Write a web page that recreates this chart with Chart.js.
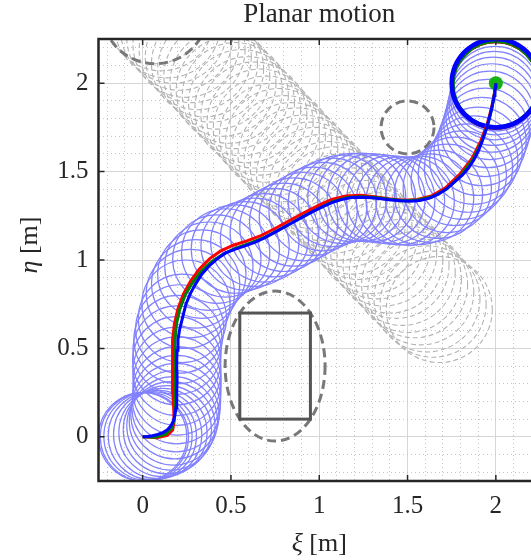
<!DOCTYPE html>
<html lang="en">
<head>
<meta charset="UTF-8">
<title>Planar motion</title>
<style>
    html, body { margin: 0; padding: 0; overflow: hidden; background: #fff; }
    #wrap { width: 560px; height: 560px; }
</style>
</head>
<body>
<div id="wrap"><canvas id="motionChart"></canvas></div>

<script src="https://cdn.jsdelivr.net/npm/chart.js"></script>
<script>
    // robot trajectories (xi, eta) in metres; the footprint circles sit on the blue samples
    const blueX = [0, 0.01, 0.03, 0.055, 0.085, 0.115, 0.14, 0.16, 0.174, 0.183, 0.189, 0.192, 0.194, 0.195, 0.194, 0.193,
        0.195, 0.2, 0.21, 0.225, 0.245, 0.27, 0.3, 0.335, 0.375, 0.42, 0.47, 0.525, 0.58, 0.635, 0.69, 0.745, 0.8, 0.855,
        0.91, 0.965, 1.02, 1.075, 1.13, 1.185, 1.24, 1.295, 1.35, 1.405, 1.46, 1.515, 1.57, 1.625, 1.675, 1.725, 1.77,
        1.81, 1.845, 1.875, 1.9, 1.922, 1.94, 1.955, 1.967, 1.977, 1.985, 1.991, 1.995, 1.998, 2.0];
    const blueY = [0, 0, 0.002, 0.006, 0.013, 0.024, 0.04, 0.062, 0.09, 0.125, 0.165, 0.21, 0.26, 0.315, 0.37, 0.43,
        0.49, 0.55, 0.61, 0.67, 0.75, 0.81, 0.865, 0.92, 0.965, 1.005, 1.04, 1.062, 1.08, 1.1, 1.125, 1.155, 1.185, 1.215,
        1.245, 1.275, 1.302, 1.326, 1.343, 1.353, 1.355, 1.352, 1.346, 1.34, 1.335, 1.333, 1.337, 1.35, 1.372, 1.405, 1.445,
        1.48, 1.52, 1.565, 1.615, 1.67, 1.722, 1.772, 1.818, 1.86, 1.898, 1.93, 1.958, 1.98, 2.0];

    const greenX = [0, 0.07, 0.13, 0.165, 0.18, 0.184, 0.182, 0.181, 0.181, 0.184, 0.192, 0.21, 0.24, 0.28, 0.33,
        0.39, 0.45, 0.52, 0.6, 0.68, 0.76, 0.84, 0.92, 1.0, 1.08, 1.16, 1.24, 1.32, 1.4, 1.48, 1.56, 1.64, 1.72, 1.8,
        1.87, 1.92, 1.955, 1.978, 1.992, 2.0];
    const greenY = [0, -0.002, 0.015, 0.05, 0.1, 0.17, 0.26, 0.36, 0.46, 0.56, 0.64, 0.72, 0.8, 0.868, 0.935,
        0.99, 1.03, 1.064, 1.093, 1.123, 1.163, 1.208, 1.253, 1.293, 1.332, 1.353, 1.358, 1.354, 1.343, 1.335, 1.34, 1.358, 1.4, 1.476,
        1.567, 1.668, 1.768, 1.86, 1.94, 2.0];

    const redX = [0, 0.08, 0.14, 0.17, 0.178, 0.176, 0.171, 0.169, 0.168, 0.171, 0.18, 0.2, 0.23, 0.27, 0.32,
        0.38, 0.44, 0.51, 0.59, 0.67, 0.75, 0.83, 0.91, 0.99, 1.07, 1.15, 1.235, 1.315, 1.395, 1.475, 1.555,
        1.635, 1.715, 1.795, 1.865, 1.915, 1.952, 1.976, 1.991, 2.0];
    const redY = [0, -0.006, 0.008, 0.038, 0.085, 0.15, 0.25, 0.35, 0.45, 0.55, 0.64, 0.725, 0.805, 0.878, 0.948,
        1.008, 1.05, 1.082, 1.108, 1.138, 1.178, 1.222, 1.266, 1.306, 1.343, 1.362, 1.366, 1.358, 1.346, 1.338, 1.342,
        1.362, 1.408, 1.484, 1.574, 1.674, 1.772, 1.862, 1.94, 2.0];

    // moving obstacle centres
    const obsX = [0.07, 0.105, 0.14, 0.175, 0.21, 0.245, 0.28, 0.315, 0.35, 0.385, 0.42, 0.455, 0.49, 0.525, 0.56, 0.595,
        0.63, 0.665, 0.70, 0.735, 0.77, 0.805, 0.84, 0.875, 0.91, 0.945, 0.98, 1.015, 1.05, 1.085, 1.12, 1.155, 1.19, 1.225,
        1.26, 1.295, 1.33, 1.365, 1.40, 1.435, 1.47, 1.505, 1.54, 1.575, 1.61, 1.645, 1.68];
    const obsY = [2.41, 2.37, 2.33, 2.30, 2.26, 2.22, 2.19, 2.15, 2.11, 2.08, 2.04, 2.00, 1.96, 1.93, 1.89, 1.85,
        1.82, 1.78, 1.74, 1.70, 1.67, 1.63, 1.59, 1.56, 1.52, 1.48, 1.45, 1.41, 1.37, 1.34, 1.30, 1.26, 1.22, 1.19,
        1.15, 1.11, 1.08, 1.04, 1.00, 0.97, 0.93, 0.89, 0.86, 0.82, 0.78, 0.75, 0.72];

    const robotR = 0.25;
    const obstacleR = 0.3;
    const staticCircle = [1.5, 1.75, 0.15];        // xi, eta, radius
    const staticEllipse = [0.75, 0.4, 0.283, 0.424]; // xi, eta, semi-axes
    const staticBox = [0.55, 0.1, 0.95, 0.7];       // xi0, eta0, xi1, eta1
    const goal = [2, 2];

    const tickValues = [0, 0.5, 1, 1.5, 2];
    const tickLabels = ['0', '0.5', '1', '1.5', '2'];

    // grid every 0.1, labelled every 0.5
    const gridValues = [];
    for (let k = -2; k <= 22; k++) gridValues.push(k / 10);

    const isMajor = v => tickValues.some(t => Math.abs(t - v) < 1e-6);
    const tickText = v => {
        const i = tickValues.findIndex(t => Math.abs(t - v) < 1e-6);
        return i >= 0 ? tickLabels[i] : '';
    };
    const pts = (xs, ys) => xs.map((x, i) => ({ x: x, y: ys[i] }));

    const ink = '#262626';
    const serif = '"Liberation Serif", "DejaVu Serif", serif';

    // circles, ellipse and box drawn through the chart's scales
    const shapes = {
        id: 'shapes',
        beforeDatasetsDraw(chart) {
            const { ctx, chartArea: a, scales: { x, y } } = chart;
            const px = v => x.getPixelForValue(v);
            const py = v => y.getPixelForValue(v);
            const rx = r => Math.abs(px(r) - px(0));
            const ry = r => Math.abs(py(r) - py(0));

            function ring(cx, cy, r, color, w, dash) {
                ctx.beginPath();
                ctx.ellipse(px(cx), py(cy), rx(r), ry(r), 0, 0, 2 * Math.PI);
                ctx.strokeStyle = color;
                ctx.lineWidth = w;
                ctx.setLineDash(dash || []);
                ctx.stroke();
            }

            ctx.save();
            ctx.beginPath();
            ctx.rect(a.left, a.top, a.right - a.left, a.bottom - a.top);
            ctx.clip();

            obsX.forEach((cx, i) => ring(cx, obsY[i], obstacleR, '#b3b3b3', 1.1, [5, 3]));
            blueX.forEach((cx, i) => ring(cx, blueY[i], robotR, '#8282ff', 1.2));

            // obstacles
            ring(obsX[0], obsY[0], obstacleR, '#787878', 3, [9, 5]);
            ring(staticCircle[0], staticCircle[1], staticCircle[2], '#787878', 3, [9, 5]);
            ctx.beginPath();
            ctx.ellipse(px(staticEllipse[0]), py(staticEllipse[1]), rx(staticEllipse[2]), ry(staticEllipse[3]), 0, 0, 2 * Math.PI);
            ctx.setLineDash([9, 5]);
            ctx.strokeStyle = '#787878';
            ctx.lineWidth = 3;
            ctx.stroke();
            ctx.setLineDash([]);
            ctx.strokeStyle = '#555555';
            ctx.strokeRect(px(staticBox[0]), py(staticBox[3]),
                px(staticBox[2]) - px(staticBox[0]), py(staticBox[1]) - py(staticBox[3]));

            // final footprints
            ring(redX[redX.length - 1], redY[redY.length - 1] - 0.01, robotR - 0.005, '#ff0000', 3);
            ring(greenX[greenX.length - 1], greenY[greenY.length - 1] - 0.006, robotR - 0.006, '#008000', 4);
            ring(blueX[blueX.length - 1], blueY[blueY.length - 1], robotR, '#0000ff', 4.5);
            ctx.restore();
        },
        afterDraw(chart) {
            const { ctx, chartArea: a, scales: { x, y } } = chart;
            ctx.save();
            ctx.strokeStyle = ink;
            ctx.lineWidth = 2.5;
            ctx.strokeRect(a.left, a.top, a.right - a.left, a.bottom - a.top);
            ctx.lineWidth = 1.5;
            ctx.beginPath();
            tickValues.forEach(v => {
                const X = x.getPixelForValue(v), Y = y.getPixelForValue(v);
                ctx.moveTo(X, a.bottom); ctx.lineTo(X, a.bottom - 6);
                ctx.moveTo(X, a.top); ctx.lineTo(X, a.top + 6);
                ctx.moveTo(a.left, Y); ctx.lineTo(a.left + 6, Y);
                ctx.moveTo(a.right, Y); ctx.lineTo(a.right - 6, Y);
            });
            ctx.stroke();

            // axis titles: italic symbol + unit
            function axisTitle(sym, unit, cx, cy) {
                ctx.font = 'italic 26px ' + serif;
                const w1 = ctx.measureText(sym).width;
                ctx.font = '26px ' + serif;
                const w2 = ctx.measureText(unit).width;
                const x0 = cx - (w1 + w2) / 2;
                ctx.font = 'italic 26px ' + serif;
                ctx.fillText(sym, x0, cy);
                ctx.font = '26px ' + serif;
                ctx.fillText(unit, x0 + w1, cy);
            }
            ctx.fillStyle = ink;
            ctx.textBaseline = 'alphabetic';
            ctx.textAlign = 'left';
            axisTitle('ξ', ' [m]', (a.left + a.right) / 2, 551);
            ctx.translate(37, 245);
            ctx.rotate(-Math.PI / 2);
            axisTitle('η', ' [m]', 0, 0);
            ctx.restore();
        }
    };

    function axis(fit) {
        return {
            type: 'linear',
            min: -0.25,
            max: 2.25,
            afterBuildTicks: s => { s.ticks = gridValues.map(v => ({ value: v })); },
            afterFit: fit,
            ticks: {
                autoSkip: false,
                maxRotation: 0,
                padding: 10,
                color: ink,
                font: { family: serif, size: 25 },
                callback: v => tickText(v)
            },
            grid: {
                drawTicks: false,
                lineWidth: 1,
                color: c => (c.tick && isMajor(c.tick.value)) ? '#d6d6d6' : '#c4c4c4'
            },
            border: {
                display: false,
                dash: c => (c.tick && !isMajor(c.tick.value)) ? [1, 3] : []
            }
        };
    }

    new Chart(document.getElementById('motionChart'), {
        type: 'scatter',
        data: {
            datasets: [
                { label: 'goal', data: [{ x: goal[0], y: goal[1] }], pointRadius: 7, pointHoverRadius: 7,
                  backgroundColor: '#14b014', borderWidth: 0, order: 4 },
                { label: 'red', data: pts(redX, redY), showLine: true, borderColor: '#ff0000', borderWidth: 3,
                  pointRadius: 0, order: 3 },
                { label: 'green', data: pts(greenX, greenY), showLine: true, borderColor: '#008000', borderWidth: 3,
                  pointRadius: 0, order: 2 },
                { label: 'blue', data: pts(blueX, blueY), showLine: true, borderColor: '#0000ff', borderWidth: 3,
                  pointRadius: 0, order: 1 }
            ]
        },
        options: {
            responsive: true,
            maintainAspectRatio: false,
            animation: false,
            layout: { padding: { left: 0, right: 20, top: 0, bottom: 0 } },
            plugins: {
                legend: { display: false },
                tooltip: { enabled: false },
                title: {
                    display: true,
                    text: 'Planar motion',
                    fullSize: false,
                    color: ink,
                    font: { family: serif, size: 27, weight: 'normal', lineHeight: 1.1 },
                    padding: { top: 0, bottom: 9.3 }
                }
            },
            scales: {
                x: axis(s => { s.height = 79; }),
                y: axis(s => { s.width = 98.5; })
            }
        },
        plugins: [shapes]
    });
</script>
</body>
</html>
